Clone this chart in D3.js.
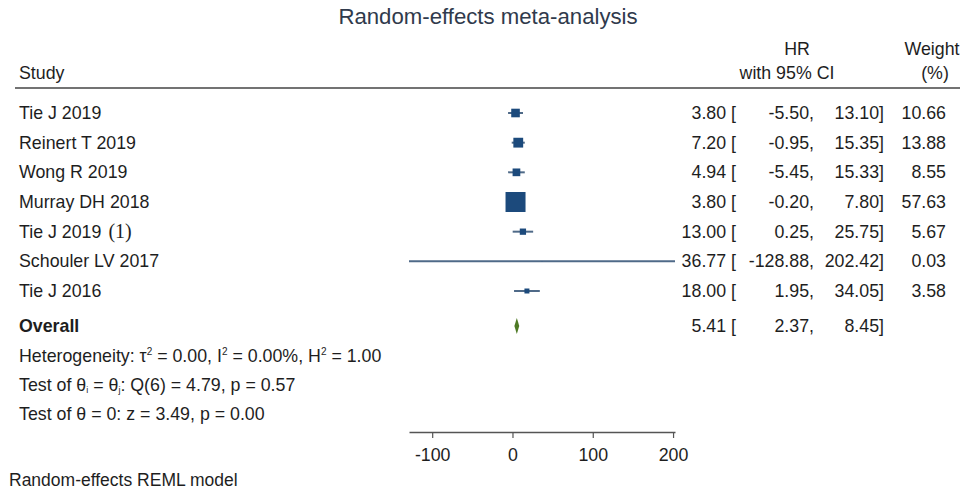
<!DOCTYPE html>
<html>
<head>
<meta charset="utf-8">
<script src="https://cdn.jsdelivr.net/npm/d3@7"></script>
<style>
  body { margin: 0; background: #fff; }
  svg { display: block; font-family: "Liberation Sans", Arial, sans-serif; }
</style>
</head>
<body>
<div id="chart"></div>
<script>
// --- data ---
const studies = ["Tie J 2019", "Reinert T 2019", "Wong R 2019", "Murray DH 2018", "Tie J 2019", "Schouler LV 2017", "Tie J 2016"];
const studyNotes = ["", "", "", "", "(1)", "", ""];
const hr = [3.80, 7.20, 4.94, 3.80, 13.00, 36.77, 18.00];
const ciLow = [-5.50, -0.95, -5.45, -0.20, 0.25, -128.88, 1.95];
const ciHigh = [13.10, 15.35, 15.33, 7.80, 25.75, 202.42, 34.05];
const weights = [10.66, 13.88, 8.55, 57.63, 5.67, 0.03, 3.58];
const overall = { hr: 5.41, low: 2.37, high: 8.45 };
const axisTicks = [-100, 0, 100, 200];

const width = 968;
const height = 492;

const textColor = "#1e1e1e";
const boxColor = "#1c4a7c";
const ciColor = "#4f6a88";
const diamondColor = "#4e7a25";
const fontSize = 17.8;

const rows = studies.map((s, i) => ({
  name: s, note: studyNotes[i], hr: hr[i], lo: ciLow[i], hi: ciHigh[i], w: weights[i], key: i
}));

const svg = d3.select("#chart").append("svg")
  .attr("width", width)
  .attr("height", height);

// scales
const x = d3.scaleLinear()
  .domain([d3.min(ciLow), d3.max(ciHigh)])
  .range([409, 675]);
const y = d3.scalePoint()
  .domain(rows.map(d => d.key))
  .range([113, 291]);
const boxSide = d3.scaleSqrt().domain([0, d3.max(weights)]).range([0, 20]);

// plain hyphen instead of unicode minus
const fmt = v => d3.format(".2f")(v).replace("\u2212", "-");

// title
svg.append("text")
  .attr("x", 488).attr("y", 24)
  .attr("text-anchor", "middle")
  .attr("font-size", 22.2)
  .attr("fill", "#303a4c")
  .text("Random-effects meta-analysis");

// headers
const head = svg.append("g").attr("font-size", fontSize).attr("fill", textColor);
head.append("text").attr("x", 19).attr("y", 79).text("Study");
head.append("text").attr("x", 797).attr("y", 55).attr("text-anchor", "middle").text("HR");
head.append("text").attr("x", 787).attr("y", 79).attr("text-anchor", "middle").text("with 95% CI");
head.append("text").attr("x", 932).attr("y", 55).attr("text-anchor", "middle").text("Weight");
head.append("text").attr("x", 935).attr("y", 79).attr("text-anchor", "middle").text("(%)");

svg.append("line")
  .attr("x1", 15).attr("x2", 960)
  .attr("y1", 88).attr("y2", 88)
  .attr("stroke", "#444").attr("stroke-width", 1.5);

// study labels
const labels = svg.append("g").attr("font-size", fontSize).attr("fill", textColor);
const lab = labels.selectAll("text.study")
  .data(rows)
  .join("text")
  .attr("class", "study")
  .attr("x", 19)
  .attr("y", d => y(d.key) + 6)
  .text(d => d.name);
lab.filter(d => d.note)
  .append("tspan")
  .attr("dx", 7)
  .attr("font-family", "'Liberation Serif', 'Times New Roman', serif")
  .attr("font-size", 20)
  .text(d => d.note);

// CI lines
svg.append("g").selectAll("line")
  .data(rows)
  .join("line")
  .attr("x1", d => x(d.lo))
  .attr("x2", d => x(d.hi))
  .attr("y1", d => y(d.key))
  .attr("y2", d => y(d.key))
  .attr("stroke", ciColor)
  .attr("stroke-width", 2);

// weight boxes
svg.append("g").selectAll("rect")
  .data(rows)
  .join("rect")
  .attr("x", d => x(d.hr) - boxSide(d.w) / 2)
  .attr("y", d => y(d.key) - boxSide(d.w) / 2)
  .attr("width", d => boxSide(d.w))
  .attr("height", d => boxSide(d.w))
  .attr("fill", boxColor);

// numbers
const nums = svg.append("g").attr("font-size", fontSize).attr("fill", textColor).attr("text-anchor", "end");
const numRow = (g, yy, d, withWeight) => {
  g.append("text").attr("x", 736).attr("y", yy).text(fmt(d.hr) + " [");
  g.append("text").attr("x", 814).attr("y", yy).text(fmt(d.lo) + ",");
  g.append("text").attr("x", 884).attr("y", yy).text(fmt(d.hi) + "]");
  if (withWeight) g.append("text").attr("x", 946).attr("y", yy).text(fmt(d.w));
};
rows.forEach(d => numRow(nums, y(d.key) + 6, d, true));

// overall
const yOverall = 326;
svg.append("text")
  .attr("x", 19).attr("y", yOverall + 6)
  .attr("font-size", fontSize).attr("font-weight", "bold").attr("fill", textColor)
  .text("Overall");
svg.append("path")
  .attr("d", d3.line()([
    [x(overall.low), yOverall],
    [x(overall.hr), yOverall - 8],
    [x(overall.high), yOverall],
    [x(overall.hr), yOverall + 8]
  ]) + "Z")
  .attr("fill", diamondColor);
numRow(nums, yOverall + 6, { hr: overall.hr, lo: overall.low, hi: overall.high }, false);

// heterogeneity / tests
const stats = svg.append("g").attr("font-size", fontSize).attr("fill", textColor);
const sup = (t, s) => { t.append("tspan").attr("dy", -7).attr("font-size", 10).text(s); t.append("tspan").attr("dy", 7).text(" "); };
const t1 = stats.append("text").attr("x", 19).attr("y", 362);
t1.append("tspan").text("Heterogeneity: τ");
sup(t1, "2");
t1.append("tspan").text("= 0.00, I");
sup(t1, "2");
t1.append("tspan").text("= 0.00%, H");
sup(t1, "2");
t1.append("tspan").text("= 1.00");

const t2 = stats.append("text").attr("x", 19).attr("y", 391);
t2.append("tspan").text("Test of θ");
t2.append("tspan").attr("dy", 2).attr("font-size", 9).text("i");
t2.append("tspan").attr("dy", -2).text(" = θ");
t2.append("tspan").attr("dy", 2).attr("font-size", 9).text("j");
t2.append("tspan").attr("dy", -2).text(": Q(6) = 4.79, p = 0.57");

stats.append("text").attr("x", 19).attr("y", 420).text("Test of θ = 0: z = 3.49, p = 0.00");

// axis
const axisG = svg.append("g")
  .attr("transform", "translate(0,432)")
  .call(d3.axisBottom(x).tickValues(axisTicks).tickSize(6).tickSizeOuter(0).tickFormat(d => String(d)));
axisG.select(".domain").attr("stroke", "#555").attr("stroke-width", 1.5);
axisG.selectAll(".tick line").attr("stroke", "#555").attr("stroke-width", 1.2);
axisG.selectAll(".tick text")
  .attr("font-size", fontSize)
  .attr("font-family", "'Liberation Sans', Arial, sans-serif")
  .attr("fill", textColor)
  .attr("dy", "1.1em");

// note
svg.append("text")
  .attr("x", 9).attr("y", 486)
  .attr("font-size", 17.5).attr("fill", textColor)
  .text("Random-effects REML model");
</script>
</body>
</html>
